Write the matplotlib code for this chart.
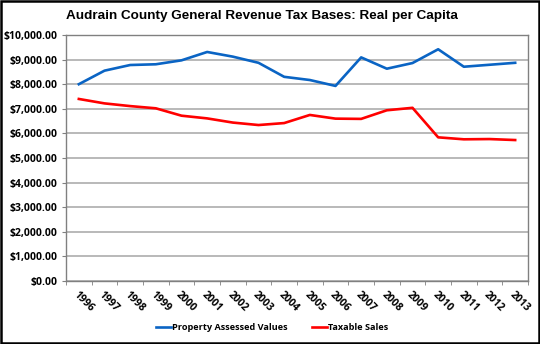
import matplotlib
matplotlib.use("Agg")
import matplotlib.pyplot as plt
import numpy as np
from matplotlib.ticker import FuncFormatter, FixedLocator

# Data
years = [str(y) for y in range(1996, 2014)]
property_values = [8000, 8550, 8780, 8810, 8970, 9310, 9120, 8870, 8300, 8170,
                   7930, 9090, 8630, 8860, 9420, 8710, 8790, 8870]
taxable_sales = [7400, 7220, 7110, 7020, 6720, 6610, 6440, 6340, 6420, 6750,
                 6600, 6590, 6940, 7040, 5840, 5760, 5770, 5730]
y_ticks = list(range(0, 10001, 1000))

title = "Audrain County General Revenue Tax Bases: Real per Capita"
label_font = ["Open Sans", "DejaVu Sans"]

fig = plt.figure(figsize=(5.4, 3.44), dpi=100)
ax = fig.add_axes([66 / 540, 1 - 281 / 344, 462 / 540, 246 / 344])

x = np.arange(len(years))
ax.plot(x, property_values, color="#0a64c4", lw=1.9, label="Property Assessed Values")
ax.plot(x, taxable_sales, color="#ff0000", lw=1.9, label="Taxable Sales")

ax.set_xlim(-0.5, len(years) - 0.5)
ax.set_ylim(0, 10000)
ax.set_yticks(y_ticks)
ax.yaxis.set_major_formatter(FuncFormatter(lambda v, p: f"${v:,.2f}"))
ax.grid(axis="y", color="#a6a6a6", lw=1.1)
ax.set_axisbelow(True)

# category axis: labels centred, ticks on boundaries
ax.set_xticks(x)
ax.set_xticklabels(years, rotation=-45, ha="left", va="top", rotation_mode="anchor",
                   fontsize=7.5, fontweight="bold", family=label_font)
ax.tick_params(axis="x", length=0, pad=6)
ax.xaxis.set_minor_locator(FixedLocator(np.arange(-0.5, len(years), 1)))
ax.tick_params(axis="x", which="minor", length=3, color="#808080", direction="out")
ax.tick_params(axis="y", length=3, color="#808080", pad=3)
for lab in ax.get_yticklabels():
    lab.set_fontsize(7.5)
    lab.set_fontweight("bold")
    lab.set_family(label_font)

for side in ["left", "bottom", "top", "right"]:
    ax.spines[side].set_color("#808080")
    ax.spines[side].set_linewidth(1.0)

fig.text(262 / 540, 1 - 16 / 344, title, ha="center", va="center", fontsize=9.7,
         fontweight="bold", family="Liberation Sans")

leg = fig.legend(loc="center", bbox_to_anchor=(272 / 540, 1 - 328 / 344), ncol=2, frameon=False,
                 prop={"family": label_font, "weight": "bold", "size": 6.6},
                 handlelength=1.7, handletextpad=0.1, columnspacing=2.6)

# black frame around the whole figure
fig.patches.append(plt.Rectangle((0.002, 0.003), 0.996, 0.994, transform=fig.transFigure,
                                 fill=False, edgecolor="black", lw=1.8))

fig.savefig("out.png", dpi=100)
